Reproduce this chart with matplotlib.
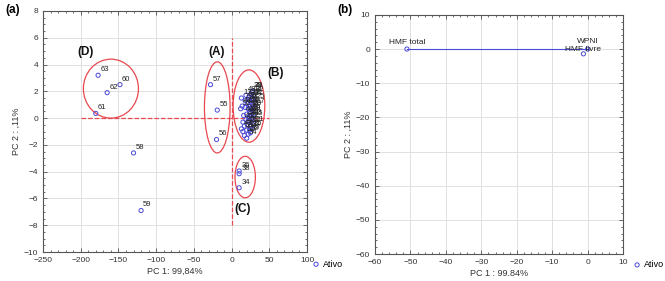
import matplotlib
matplotlib.use('Agg')
import matplotlib.pyplot as plt
from matplotlib.patches import Ellipse
from matplotlib.ticker import MultipleLocator

plt.rcParams['font.family'] = ['Liberation Sans', 'DejaVu Sans']

# scores (panel a)
score_ids = [1, 2, 3, 4, 5, 6, 7, 8, 9, 10, 11, 12, 13, 14, 15, 16, 17, 18, 19, 20,
             21, 22, 23, 24, 25, 26, 27, 28, 29, 30, 31, 32, 33, 35, 37, 39, 40, 41, 42, 43,
             44, 45, 46, 47, 48, 49, 50, 51, 52, 53, 54,
             34, 36, 38, 55, 56, 57, 58, 59, 60, 61, 62, 63]
score_pc1 = [24, 26, 25, 27, 23, 28, 26, 24, 29, 22, 27, 25, 13, 21, 28, 23, 30, 20, 26, 24,
             29, 22, 27, 25, 30, 21, 28, 23, 28, 26, 24, 29, 22, 27, 25, 27, 18, 19, 17, 20,
             16, 18, 15, 14, 19, 13, 22, 17, 12, 15, 20,
             10, 10, 10, -19, -20, -28, -130, -120, -148, -180, -165, -177]
score_pc2 = [0.5, 0.2, 0.9, 0.6, 0.0, 1.0, -0.3, 1.3, 0.3, 0.7, 1.5, -0.6, 1.5, 1.1, -0.1, 1.6, 0.8, 0.3, 1.8, -0.9,
             -0.5, -0.2, 0.0, 0.4, 1.2, -0.5, 1.4, 0.9, 2.0, 0.7, 0.1, 1.7, 1.4, -0.8, -1.1, 2.0, 0.8, -0.1, -0.6, -0.9,
             0.2, 1.3, -0.3, 0.9, 1.7, -0.8, -1.2, -1.3, 0.7, -1.0, -1.5,
             -5.2, -3.95, -4.15, 0.6, -1.6, 2.5, -2.6, -6.9, 2.5, 0.35, 1.9, 3.2]

# groups: name, centre x, centre y, width, height, label x, label y
group_names = ['(A)', '(B)', '(C)', '(D)']
group_cx = [-19, 23, 18, -160]
group_cy = [0.8, 0.9, -4.4, 2.2]
group_w = [34, 42, 27, 73]
group_h = [6.8, 5.4, 3.1, 4.4]
group_lx = [-20, 58, 15, -193]
group_ly = [4.9, 3.4, -6.8, 4.9]

# loadings (panel b)
load_names = ['HMF total', 'WPNI', 'HMF livre']
load_pc1 = [-51, 0, -1.2]
load_pc2 = [0, 0, -1.4]

blue = '#4a4ad8'
red = '#e8484f'
grid_c = '#e0e0e0'

fig = plt.figure(figsize=(6.65, 2.81), dpi=100)


def style(ax):
    ax.grid(True, color=grid_c, lw=0.7)
    ax.set_axisbelow(True)
    ax.tick_params(which='both', direction='in', top=True, right=True, labelsize=6,
                   colors='#333333', width=0.5)
    ax.tick_params(which='major', length=3)
    ax.tick_params(which='minor', length=1.5)
    for s in ax.spines.values():
        s.set_linewidth(0.8)
        s.set_color('#555555')


# ---- panel (a)
ax1 = fig.add_axes([0.0647, 0.103, 0.397, 0.858])
ax1.set_xlim(-250, 100)
ax1.set_ylim(-10, 8)
ax1.xaxis.set_major_locator(MultipleLocator(50))
ax1.xaxis.set_minor_locator(MultipleLocator(10))
ax1.yaxis.set_major_locator(MultipleLocator(2))
ax1.yaxis.set_minor_locator(MultipleLocator(0.5))
style(ax1)

ax1.plot([-200, 50], [0, 0], ls='--', color=red, lw=0.9)
ax1.plot([0, 0], [-8, 6], ls='--', color=red, lw=0.9)

ax1.scatter(score_pc1, score_pc2, s=9, facecolors='none', edgecolors=blue, linewidths=0.7,
            label='Ativo', zorder=3)
for i, x, y in zip(score_ids, score_pc1, score_pc2):
    ax1.annotate(str(i), (x, y), xytext=(1.5, 1.5), textcoords='offset points',
                 fontsize=5.5, color='#222222', ha='left', va='bottom')

for n, cx, cy, w, h, lx, ly in zip(group_names, group_cx, group_cy, group_w, group_h, group_lx, group_ly):
    ax1.add_patch(Ellipse((cx, cy), w, h, fill=False, edgecolor=red, lw=0.9))
    ax1.text(lx, ly, n, fontsize=8.5, fontweight='bold', ha='center', va='center', color='#111111')

ax1.set_xlabel('PC 1: 99,84%', fontsize=6.5, labelpad=2, color='#333333')
ax1.set_ylabel('PC 2 : ,11%', fontsize=6.5, labelpad=2, color='#333333')
ax1.legend(loc='center left', bbox_to_anchor=(1.0, -0.05), frameon=False, fontsize=6.5,
           handlelength=1, handletextpad=0.3, borderpad=0, scatterpoints=1)
fig.text(0.008, 0.965, '(a)', fontsize=8.5, fontweight='bold', va='center')

# ---- panel (b)
ax2 = fig.add_axes([0.564, 0.096, 0.373, 0.851])
ax2.set_xlim(-60, 10)
ax2.set_ylim(-60, 10)
ax2.xaxis.set_major_locator(MultipleLocator(10))
ax2.xaxis.set_minor_locator(MultipleLocator(2))
ax2.yaxis.set_major_locator(MultipleLocator(10))
ax2.yaxis.set_minor_locator(MultipleLocator(2))
style(ax2)

ax2.plot(load_pc1[:2], load_pc2[:2], color=blue, lw=0.8)
ax2.scatter(load_pc1, load_pc2, s=9, facecolors='none', edgecolors=blue, linewidths=0.7,
            label='Ativo', zorder=3)
offsets = [(0, 2), (0, 3), (0, 0.5)]
for n, x, y, off in zip(load_names, load_pc1, load_pc2, offsets):
    ax2.annotate(n, (x, y), xytext=off, textcoords='offset points', fontsize=6,
                 color='#222222', ha='center', va='bottom')

ax2.set_xlabel('PC 1 : 99.84%', fontsize=6.5, labelpad=2, color='#333333')
ax2.set_ylabel('PC 2 : ,11%', fontsize=6.5, labelpad=2, color='#333333')
ax2.legend(loc='center left', bbox_to_anchor=(1.02, -0.045), frameon=False, fontsize=6.5,
           handlelength=1, handletextpad=0.3, borderpad=0, scatterpoints=1)
fig.text(0.508, 0.965, '(b)', fontsize=8.5, fontweight='bold', va='center')

fig.savefig('out.png', dpi=100)
